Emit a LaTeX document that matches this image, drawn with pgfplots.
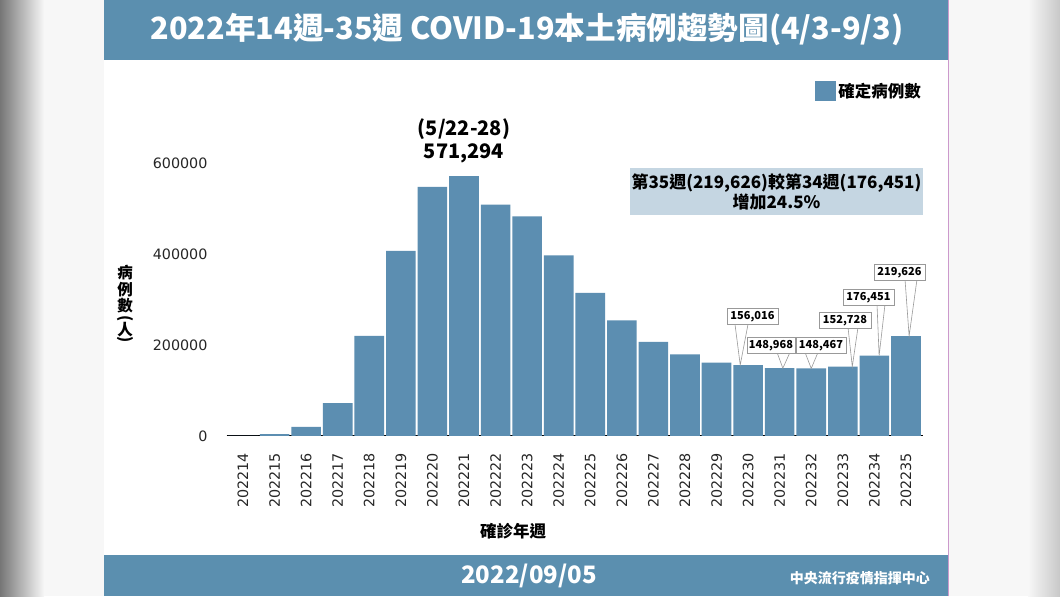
\documentclass[border=0pt]{standalone}
\usepackage{fontspec}
\usepackage{pgfplots}
\usepackage{pgfplotstable}
\pgfplotsset{compat=1.18}
\setmainfont{DejaVu Sans}
\newfontfamily\cjk{Noto Sans CJK TC}
\definecolor{barblue}{HTML}{5C8EB1}
\definecolor{hdr}{HTML}{5B8FAF}
\definecolor{notebg}{HTML}{C5D6E2}
\definecolor{sidebg}{HTML}{F7F7F7}

\pgfplotstableread{
x week cases
0 202214 300
1 202215 4000
2 202216 19800
3 202217 72500
4 202218 219800
5 202219 406600
6 202220 547300
7 202221 571294
8 202222 508600
9 202223 482900
10 202224 397100
11 202225 314300
12 202226 254300
13 202227 206600
14 202228 179600
15 202229 161500
16 202230 156016
17 202231 148968
18 202232 148467
19 202233 152728
20 202234 176451
21 202235 219626
}\casestable

\begin{document}
\begin{tikzpicture}[x=1pt,y=1pt]
% background
\fill[sidebg] (0,0) rectangle (1060,596);
\shade[left color={rgb,255:red,118;green,118;blue,118}, right color=sidebg] (0,0) rectangle (44,596);
\shade[left color=sidebg, right color={rgb,255:red,200;green,200;blue,200}] (1028,0) rectangle (1060,596);
\fill[white] (104,0) rectangle (948,596);
\draw[violet!40, line width=0.6pt] (948,0) -- (948,596);
\fill[hdr] (104,536) rectangle (948,596);
\fill[hdr] (104,0) rectangle (948,41);
\node[text=white, font=\cjk\bfseries\fontsize{30.6}{31}\selectfont] at (527,567) {2022年14週-35週 COVID-19本土病例趨勢圖(4/3-9/3)};
\node[text=white, font=\cjk\bfseries\fontsize{24}{25}\selectfont] at (529,20) {2022/09/05};
\node[text=white, font=\cjk\bfseries\fontsize{14}{15}\selectfont, anchor=east, inner sep=0pt] at (930,18) {中央流行疫情指揮中心};

\begin{axis}[
  at={(226.6pt,160.3pt)}, anchor=south west, scale only axis,
  width=696.4pt, height=273pt,
  xmin=-0.52, xmax=21.54, ymin=0, ymax=600000,
  axis x line=bottom, axis y line=left,
  y axis line style={draw=none},
  x axis line style={black, line width=1pt, -},
  major tick length=0pt,
  scaled y ticks=false,
  ytick={0,200000,400000,600000},
  yticklabels={0,200000,400000,600000},
  yticklabel style={font=\fontsize{14.3}{15}\selectfont, text=black!85, inner sep=0pt, anchor=east, xshift=-19pt},
  xtick={0,...,21},
  xticklabels={202214,202215,202216,202217,202218,202219,202220,202221,202222,202223,202224,202225,202226,202227,202228,202229,202230,202231,202232,202233,202234,202235},
  xticklabel style={font=\fontsize{14.3}{15}\selectfont, text=black!85, inner sep=0pt, yshift=-17pt, rotate=90, anchor=east},
  ybar, bar width=29.6pt,
  clip=false,
  legend style={draw=none, fill=none, at={(1.0,1.30)}, anchor=north east, font=\cjk\bfseries\fontsize{16.5}{17}\selectfont, inner sep=0pt},
  legend image code/.code={\fill[barblue] (0pt,-10pt) rectangle (21pt,10pt);},
]
\addplot[fill=barblue, draw=none] table[x=x, y=cases] {\casestable};
\addlegendentry{確定病例數}
\node[anchor=south, inner sep=0pt, yshift=12.5pt, align=center, font=\cjk\bfseries\fontsize{20}{23}\selectfont] at (axis cs:7,571294) {(5/22-28)\\571,294};
\coordinate (p30) at (axis cs:15.75,156016);
\coordinate (p31) at (axis cs:17.1,148968);
\coordinate (p32) at (axis cs:18,148467);
\coordinate (p33) at (axis cs:19.3,152728);
\coordinate (p34) at (axis cs:20.15,176451);
\coordinate (p35) at (axis cs:21.1,219626);
\end{axis}

% y label
\begin{scope}[font=\cjk\bfseries\fontsize{15.5}{16}\selectfont]
\node[inner sep=0pt] at (125,323.5) {病};
\node[inner sep=0pt] at (125,306.5) {例};
\node[inner sep=0pt] at (125,290.5) {數};
\node[inner sep=0pt, rotate=-90] at (125,277.5) {(};
\node[inner sep=0pt] at (125,266.5) {人};
\node[inner sep=0pt, rotate=-90] at (125,256.5) {)};
\end{scope}
% x label
\node[font=\cjk\bfseries\fontsize{16.5}{17}\selectfont] at (513,65) {確診年週};

% note box
\node[fill=notebg, minimum width=293pt, minimum height=47pt, inner sep=0pt, align=center, font=\cjk\bfseries\fontsize{17}{19.5}\selectfont] at (776.5,404.5) {第35週(219,626)較第34週(176,451)\\增加24.5\%};

% callouts
\tikzset{callout/.style={draw=gray!80, fill=white, line width=0.6pt, minimum height=16pt, inner sep=0pt, font=\cjk\bfseries\fontsize{11}{11}\selectfont}}
\draw[gray!80, line width=0.6pt, fill=white] (735,272) -- (p30) -- (748,272);
\node[callout, minimum width=51pt] at (752.5,279.5) {156,016};
\draw[gray!80, line width=0.6pt, fill=white] (777,244) -- (p31) -- (790,244);
\node[callout, minimum width=48pt] at (771,251) {148,968};
\draw[gray!80, line width=0.6pt, fill=white] (805,244) -- (p32) -- (818,244);
\node[callout, minimum width=50pt] at (821,251) {148,467};
\draw[gray!80, line width=0.6pt, fill=white] (848,269) -- (p33) -- (858,269);
\node[callout, minimum width=52pt] at (845,276) {152,728};
\draw[gray!80, line width=0.6pt, fill=white] (877,292) -- (p34) -- (885,292);
\node[callout, minimum width=51pt] at (868.5,298.5) {176,451};
\draw[gray!80, line width=0.6pt, fill=white] (905,317) -- (p35) -- (917,317);
\node[callout, minimum width=51pt] at (899.5,324) {219,626};
\end{tikzpicture}
\end{document}
